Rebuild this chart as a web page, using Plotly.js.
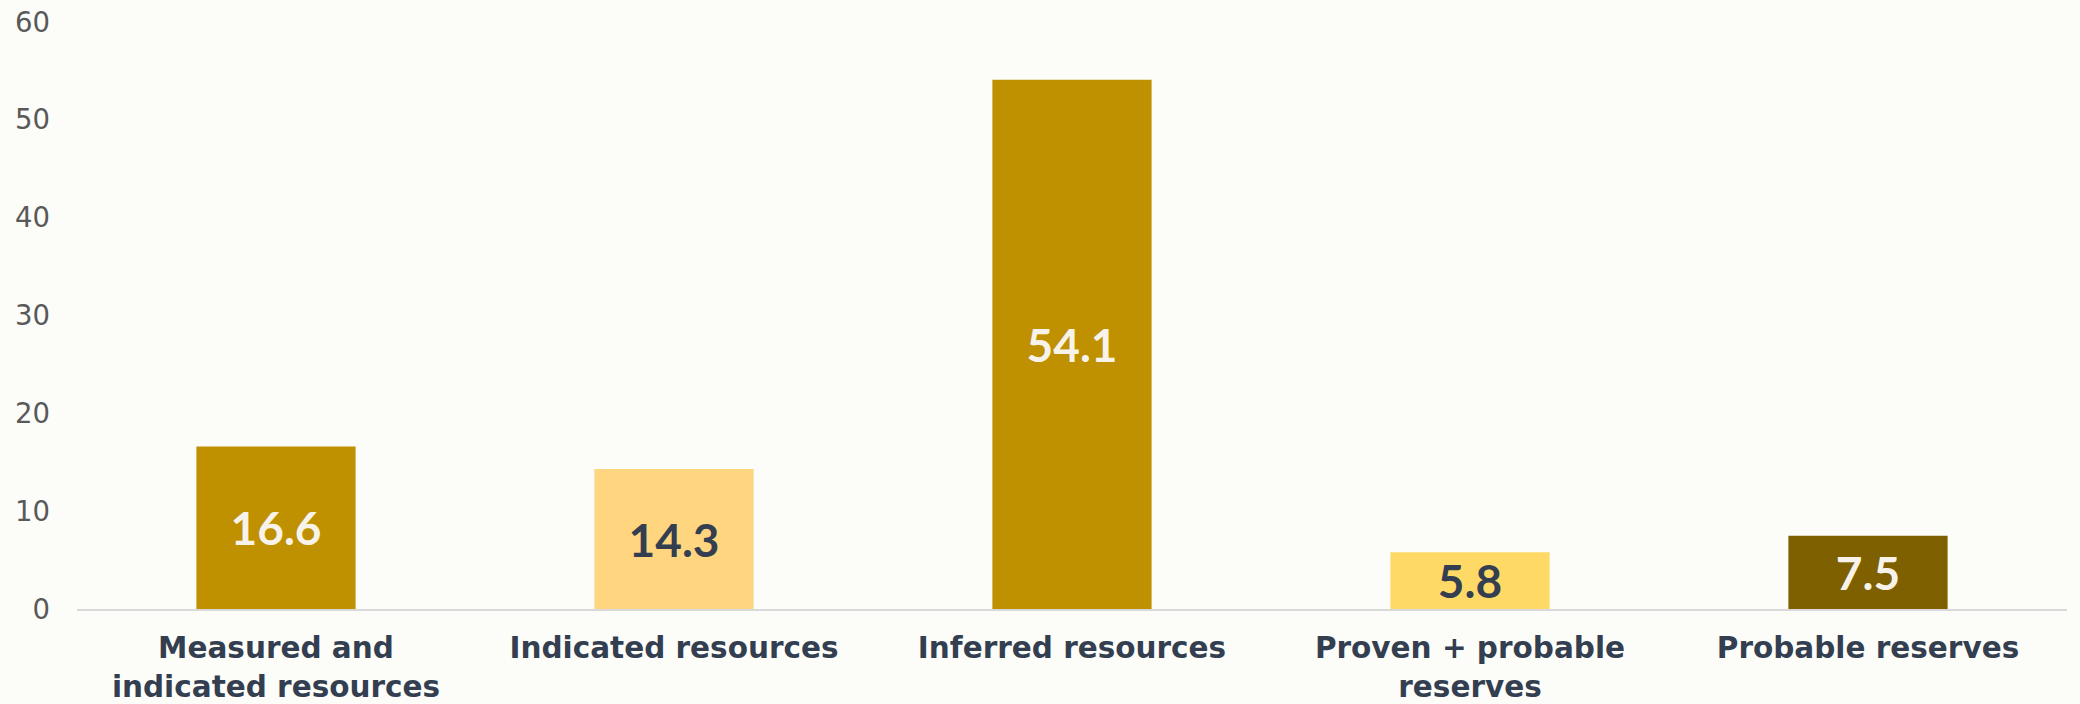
<!DOCTYPE html>
<html>
<head>
<meta charset="utf-8">
<script src="https://cdn.plot.ly/plotly-3.0.1.min.js"></script>
<style>html,body{margin:0;padding:0;background:#FCFCF8;}#chart{width:2080px;height:704px;}</style>
</head>
<body>
<div id="chart"></div>
<script>
const categories = ["Measured and<br>indicated resources", "Indicated resources", "Inferred resources", "Proven + probable<br>reserves", "Probable reserves"];
const values = [16.6, 14.3, 54.1, 5.8, 7.5];
const labels = ["16.6", "14.3", "54.1", "5.8", "7.5"];
const barColors = ["#BF9000", "#FFD57F", "#BF9000", "#FFD966", "#7F6000"];
const labelColors = ["#F7F3EA", "#333F50", "#F7F3EA", "#333F50", "#F7F3EA"];
const yTicks = [0, 10, 20, 30, 40, 50, 60];

const trace = {
  type: "bar",
  x: categories,
  y: values,
  text: labels,
  textposition: "inside",
  insidetextanchor: "middle",
  constraintext: "none",
  textfont: {family: "Lato, sans-serif", size: 46, color: labelColors, weight: "bold"},
  marker: {color: barColors},
  hoverinfo: "none"
};

const layout = {
  width: 2080,
  height: 704,
  paper_bgcolor: "#FCFCF8",
  plot_bgcolor: "#FCFCF8",
  margin: {l: 77, r: 13, t: 22, b: 95},
  bargap: 0.6,
  showlegend: false,
  xaxis: {
    type: "category",
    showgrid: false,
    showline: true,
    linecolor: "#D9D9D9",
    linewidth: 2,
    ticks: "",
    ticklabelstandoff: 12,
    tickfont: {family: "DejaVu Sans, sans-serif", size: 29.5, color: "#333F50", weight: "bold"}
  },
  yaxis: {
    range: [0, 60],
    tickvals: yTicks,
    ticktext: yTicks.map(String),
    showgrid: false,
    zeroline: false,
    showline: false,
    ticks: "",
    ticklabelstandoff: 26,
    tickfont: {family: "DejaVu Sans, sans-serif", size: 27.5, color: "#595959"}
  }
};

Plotly.newPlot("chart", [trace], layout, {staticPlot: true, displayModeBar: false});
</script>
</body>
</html>
